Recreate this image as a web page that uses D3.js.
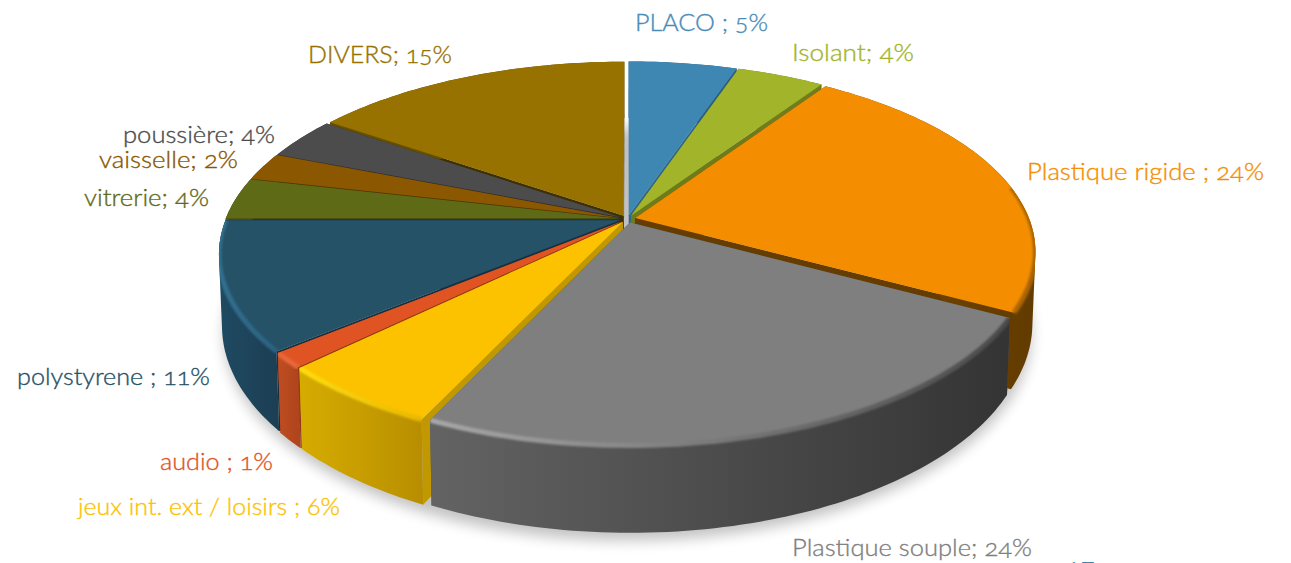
<!DOCTYPE html>
<html><head><meta charset="utf-8">
<script src="https://cdn.jsdelivr.net/npm/d3@7"></script>
<style>html,body{margin:0;padding:0;background:#fff;overflow:hidden}svg{display:block}
text{font-family:Lato,"Open Sans",sans-serif;font-weight:300;stroke-width:.35;font-feature-settings:"onum" 1;font-variant-numeric:oldstyle-nums}</style>
</head><body><svg id="c" width="1291" height="563"></svg>
<script>
const categories=["PLACO ","Isolant","Plastique rigide ","Plastique souple","jeux int. ext / loisirs ","audio ","polystyrene ","vitrerie","vaisselle","poussière","DIVERS"];
const values=[5.2,4.2,23.5,24.1,5.7,1.3,11,3.6,2.4,3.6,15.4];
const separators=[" ; ","; "," ; ","; "," ; "," ; "," ; ","; ","; ","; ","; "];
const topColors=["#3f87b3","#a2b52a","#f48e00","#7f7f7f","#fcc200","#e05423","#265268","#5f6a17","#8b5700","#4c4c4c","#977200"];
const sideLeft=["#2c5f7e","#6f7d1d","#7a4a00","#636363","#d6ac00","#bf4d22","#1f4a62","#434b10","#5f3b00","#333333","#665000"];
const sideRight=["#2c5f7e","#6f7d1d","#623b00","#343434","#b88e00","#b0441c","#1c3f54","#434b10","#5f3b00","#333333","#665000"];
const wallColors=["#2f6788","#6d7b1a","#663d00","#555555","#c19800","#8f3a18","#16303f","#33380c","#523400","#2e2e2e","#3f3000"];
const rimLeft=["#3f87b3","#a2b52a","#f48e00","#a8a8a8","#ffdc10","#e8683a","#33708f","#5f6a17","#8b5700","#4c4c4c","#977200"];
const rimRight=["#3f87b3","#a2b52a","#a96300","#4a4a4a","#e8b800","#e8683a","#2c6280","#5f6a17","#8b5700","#4c4c4c","#977200"];
const labelColors=["#4a8cb8","#a2b52a","#f48e00","#7f7f7f","#fcc200","#e05423","#265268","#5f6a17","#8b5700","#4c4c4c","#977200"];
const labelLeft=[635,792,1027,792,78,160,17,84,99,123,308];
const labelRight=[768,914,1264,1032,340,273,210,209,238,275,452];
const labelBase=[31,61,180,556,515,470,385,206,168,143,63];
const strayLabel="17";

const svg=d3.select("#c"),defs=svg.append("defs");
const cx=627.5,cy=219,k=0.179,R=400,Ry=185,R2=397,Ry2=200,cy2=288,explode=0.02,rad=0.985;
const pie=d3.pie().sort(null)(values);
const proj=(u,v,bottom)=>{const w=1-k*v;return bottom?[cx+R2*u/w,cy2+Ry2*v/w]:[cx+R*u/w,cy+Ry*v/w];};
const line=d3.line();
const f1=defs.append("filter").attr("id","sh").attr("x","-10%").attr("y","-10%").attr("width","120%").attr("height","130%");
f1.append("feGaussianBlur").attr("stdDeviation",7);
const f2=defs.append("filter").attr("id","rb").attr("x","-10%").attr("y","-10%").attr("width","120%").attr("height","120%");
f2.append("feGaussianBlur").attr("stdDeviation",1.1);

const slices=pie.map((p,i)=>{const mid=(p.startAngle+p.endAngle)/2;
 return {i,a0:p.startAngle,a1:p.endAngle,ou:explode*Math.sin(mid),ov:-explode*Math.cos(mid),depth:-Math.cos(mid)};});
const pt=(s,a,r,b)=>proj(s.ou+r*rad*Math.sin(a),s.ov-r*rad*Math.cos(a),b);
const arcPts=(s,b,a0=s.a0,a1=s.a1)=>{const n=Math.max(2,Math.ceil((a1-a0)/0.02));return d3.range(n+1).map(j=>pt(s,a0+(a1-a0)*j/n,1,b));};
const grad=(id,x1,x2,c1,c2)=>{const g=defs.append("linearGradient").attr("id",id).attr("gradientUnits","userSpaceOnUse").attr("x1",x1).attr("x2",x2).attr("y1",0).attr("y2",0);
 g.append("stop").attr("offset",0).attr("stop-color",c1);g.append("stop").attr("offset",1).attr("stop-color",c2);};

// ground shadow
const hull=d3.range(0,2*Math.PI+.01,.03).map(a=>proj(Math.sin(a),-Math.cos(a),true));
svg.append("path").attr("d",line(hull)+"Z").attr("transform","translate(0,9)").attr("fill","#000").attr("opacity",.24).attr("filter","url(#sh)");

const g=svg.append("g");
const vis0=80*Math.PI/180,vis1=286*Math.PI/180;
slices.slice().sort((a,b)=>a.depth-b.depth).forEach(s=>{
 const i=s.i;
 [s.a0,s.a1].forEach(a=>{
  g.append("path").attr("d",line([pt(s,a,0,false),pt(s,a,1,false),pt(s,a,1,true),pt(s,a,0,true)])+"Z").attr("fill",wallColors[i]);
 });
 const xs=arcPts(s,false).map(d=>d[0]);
 const xmin=d3.min(xs),xmax=d3.max(xs);
 grad("s"+i,xmin,xmax,sideLeft[i],sideRight[i]);
 grad("r"+i,xmin,xmax,rimLeft[i],rimRight[i]);
 const sideHull=d3.polygonHull(arcPts(s,false).concat(arcPts(s,true)));
 g.append("path").attr("d",line(sideHull)+"Z").attr("fill","url(#s"+i+")");
 const topD=line([pt(s,s.a0,0,false)].concat(arcPts(s,false)))+"Z";
 g.append("path").attr("d",topD).attr("fill",topColors[i]);
 const b0=Math.max(s.a0,vis0),b1=Math.min(s.a1,vis1);
 if(b1>b0){
  const clip=defs.append("clipPath").attr("id","cl"+i);
  clip.append("path").attr("d",line(sideHull)+"Z");
  clip.append("path").attr("d",topD);
  g.append("g").attr("clip-path","url(#cl"+i+")").append("path").attr("d",line(arcPts(s,false,b0,b1)))
   .attr("fill","none").attr("stroke","url(#r"+i+")").attr("stroke-width",5).attr("filter","url(#rb)");
 }
});

const lab=svg.append("g");
categories.forEach((c,i)=>{
 lab.append("text").attr("x",labelLeft[i]).attr("y",labelBase[i]).attr("font-size",23.5)
  .attr("textLength",labelRight[i]-labelLeft[i]).attr("lengthAdjust","spacingAndGlyphs")
  .attr("fill",labelColors[i]).attr("stroke",labelColors[i]).style("white-space","pre")
  .text(c.trimEnd()+separators[i]+Math.round(values[i])+"%");
});
lab.append("text").attr("x",1066).attr("y",577).attr("font-size",27).attr("fill","#3f87b3").text(strayLabel);
</script></body></html>
